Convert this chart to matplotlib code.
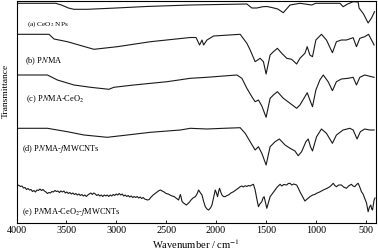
import numpy as np
import matplotlib
matplotlib.use("Agg")
import matplotlib.pyplot as plt

plt.rcParams['font.family'] = ['Liberation Serif', 'DejaVu Serif']
plt.rcParams['mathtext.fontset'] = 'stix'

# FTIR spectra, transmittance with vertical offsets (arbitrary units)
wn_a = [4000, 3607, 3550, 3480, 3424, 3290, 3000, 2700, 2257, 1690, 1640, 1590, 1530, 1490,
        1440, 1380, 1325, 1257, 1157, 1040, 1000, 757, 724, 680, 624, 574, 565, 520, 474, 440, 410]
t_a = [219.7, 219.7, 218, 215, 213.7, 213.7, 215, 216.5, 218, 219, 215, 215, 216.3, 216.5,
       215.5, 214, 210.3, 218, 219.7, 218, 219.7, 219.7, 216.3, 219, 221.3, 221, 215, 209, 200, 205, 211.3]

wn_b = [4000, 3674, 3624, 3490, 3224, 2990, 2657, 2257, 2200, 2164, 2140, 2124, 2090, 2024,
        1757, 1690, 1657, 1607, 1557, 1524, 1497, 1457, 1424, 1384, 1340, 1290, 1241, 1191,
        1158, 1108, 1085, 1058, 1032, 998, 942, 892, 832, 792, 742, 692, 624, 591, 557, 508,
        470, 440, 414]
t_b = [188.7, 188.7, 184, 181.3, 173.7, 176.3, 181.3, 185.5, 185.5, 178, 183, 178, 183, 187,
       188.7, 179.7, 173, 161.3, 164.7, 161.3, 149, 168, 171.3, 174.7, 169.7, 164.7, 163.7, 159,
       164.7, 169.7, 176.3, 168, 166.3, 183, 188.7, 183, 170.3, 181.3, 183, 183, 185.3, 176.3, 184.7, 186.3,
       188.7, 183, 178]

wn_c = [4000, 3690, 3590, 3424, 3257, 3074, 3024, 2824, 2490, 2257, 2090, 1924, 1790, 1740,
        1690, 1640, 1607, 1574, 1540, 1497, 1457, 1424, 1384, 1324, 1257, 1191, 1158, 1108,
        1085, 1058, 1032, 998, 958, 924, 875, 832, 792, 742, 675, 624, 591, 557, 508, 441, 414]
t_c = [148, 148, 143, 138, 135.7, 133.7, 135.7, 138, 141.3, 144.7, 145.7, 147, 148, 144.7,
       134.7, 126.3, 121.3, 123, 117, 105.7, 124.7, 128, 131.3, 124.7, 119.7, 114.7, 118, 126.3,
       130.3, 123, 116.3, 133, 143, 148, 141.3, 132.3, 141.3, 144, 144.7, 145.7, 138, 145.7, 148, 146.3, 145.7]

wn_d = [4000, 3690, 3490, 3324, 3090, 2890, 2657, 2357, 2257, 2090, 1924, 1757, 1707, 1657,
        1607, 1574, 1540, 1497, 1457, 1407, 1364, 1307, 1257, 1208, 1175, 1141, 1098, 1075,
        1052, 1032, 991, 942, 892, 832, 792, 725, 658, 624, 585, 552, 508, 458, 414]
t_d = [94.7, 94.7, 91.3, 88, 85.7, 88, 90.7, 93, 94.7, 94, 94.7, 95.3, 89.7, 81.3,
       73, 76.3, 69.7, 58, 76.3, 81.3, 84, 78, 74.7, 72, 67.3, 71.3, 81.3, 84,
       76.3, 72, 86.3, 94, 89.7, 79.7, 88, 93, 94.7, 93, 84, 91.3, 94, 93, 93]

wn_e = [4000, 3975, 3960, 3945, 3930, 3915, 3900, 3885, 3870, 3855, 3840, 3825, 3810, 3795,
        3780, 3765, 3750, 3735, 3720, 3705, 3690, 3675, 3660, 3645, 3630, 3615, 3600, 3585,
        3570, 3555, 3540, 3525, 3510, 3495, 3480, 3465, 3450, 3435, 3420, 3405, 3390, 3375,
        3360, 3345, 3330, 3315, 3300, 3285, 3270, 3255, 3240, 3225, 3210, 3195, 3180, 3165,
        3150, 3135, 3120, 3105, 3090, 3075, 3060, 3045, 3030, 3015, 3000, 2985, 2970, 2955,
        2940, 2925, 2910, 2895, 2880, 2865, 2850, 2835, 2820, 2805, 2790, 2775, 2760, 2745,
        2730, 2715, 2700, 2685, 2670, 2650, 2630, 2610, 2590, 2570, 2555, 2540, 2520, 2500,
        2480, 2460, 2440, 2420, 2400, 2385, 2375, 2365, 2357, 2350, 2340, 2325, 2310, 2297,
        2280, 2265, 2250, 2230, 2207, 2190, 2174, 2155, 2140, 2125, 2107, 2090, 2074, 2055,
        2040, 2020, 2007, 1995, 1984, 1972, 1964, 1952, 1940, 1925, 1907, 1890, 1874, 1850,
        1824, 1800, 1780, 1757, 1740, 1725, 1707, 1690, 1675, 1657, 1640, 1624, 1607, 1590,
        1574, 1560, 1540, 1528, 1517, 1505, 1490, 1475, 1457, 1430, 1407, 1385, 1357, 1340,
        1320, 1290, 1275, 1257, 1240, 1220, 1191, 1175, 1158, 1130, 1108, 1085, 1058, 1030,
        1010, 991, 960, 924, 890, 858, 840, 824, 808, 792, 770, 742, 720, 692, 670, 642,
        625, 608, 590, 574, 558, 541, 525, 508, 490, 474, 460, 447, 438, 430, 422, 414, 405]
t_e = [38.7, 37.5, 36.5, 37, 35, 35.5, 33.5, 34.5, 33, 33.5, 31.5, 32.5, 31, 33,
       32.5, 34, 32.5, 33.5, 32, 31, 29.5, 30.5, 30, 31.5, 31, 32.5, 31.5, 32,
       30.5, 32, 31, 32, 30, 31, 29.5, 30.5, 29, 30, 28.5, 29.5, 28, 29,
       27.5, 28.5, 27, 28, 26.5, 28, 29, 30, 28.5, 30, 29, 27.5, 28.5, 27,
       28, 26.5, 28, 27, 28, 26.5, 28, 27, 28.5, 27.5, 29, 28, 29.5, 28,
       29, 27, 28, 26.5, 27.5, 26, 27, 25.5, 26.5, 25.5, 26.5, 25, 26, 24.5,
       25.5, 24, 23.5, 23, 23.5, 26, 28, 29.5, 31, 32.5, 33, 32, 31, 29.5,
       29, 28, 27, 26.5, 25, 24, 23, 26, 28.5, 26, 21.5, 20, 19, 18,
       19.5, 21, 23, 25, 26.3, 29, 33, 30, 28, 22, 16.3, 14, 13, 15,
       18, 27, 33, 30, 26.3, 32, 34.7, 31, 28, 26.5, 26.3, 27.5, 28, 30,
       31.3, 33, 34.5, 36.3, 37, 36, 37.3, 36.5, 37.5, 37, 38, 38.7, 33, 24,
       16.3, 19, 21.3, 25, 26.3, 21, 14.7, 20, 26.3, 30, 33, 36, 38.7, 37,
       38.5, 38, 39.5, 39.7, 38, 39, 38, 35, 31.3, 26, 22, 24, 26.3, 28,
       28.5, 29.7, 31, 33, 34.5, 36.3, 38, 39.7, 37.5, 36.3, 38, 38, 36, 34.7, 37, 38.7,
       37, 36.3, 38.5, 39.7, 36, 31.3, 29, 24.7, 20, 11.3, 16, 18, 14, 13, 18, 23, 25]

labels = [r'(a) CeO$_2$ NPs', r'(b) P$\mathit{N}$MA', r'(c) P$\mathit{N}$MA-CeO$_2$',
          r'(d) P$\mathit{N}$MA-$\mathit{f}$MWCNTs', r'(e) P$\mathit{N}$MA-CeO$_2$-$\mathit{f}$MWCNTs']
label_x = [3895, 3915, 3905, 3945, 3945]
label_y = [199, 162, 124, 74, 10.5]
label_size = [5.2, 6, 6, 6, 6]

fig = plt.figure(figsize=(3.78, 2.5), dpi=100)
ax = fig.add_axes([0.0437, 0.108, 0.9497, 0.888])

for wn, t in [(wn_a, t_a), (wn_b, t_b), (wn_c, t_c), (wn_d, t_d), (wn_e, t_e)]:
    ax.plot(wn, t, color='#1a1a1a', lw=0.8)

for lab, x, y, s in zip(labels, label_x, label_y, label_size):
    ax.text(x, y, lab, fontsize=s, va='center', ha='left')

ax.set_xlim(4000, 400)
ax.set_ylim(0, 222)
ax.set_xticks(np.arange(4000, 499, -500))
ax.set_yticks([])
ax.tick_params(axis='x', direction='in', length=2, width=0.6, labelsize=7.3, pad=2)
for sp in ax.spines.values():
    sp.set_linewidth(0.8)
ax.set_xlabel('Wavenumber / cm$^{-1}$', fontsize=7.6, labelpad=2)
ax.set_ylabel('Transmittance', fontsize=6.8)
ax.yaxis.set_label_coords(-0.018, 0.595)

fig.savefig('out.png', dpi=100)
